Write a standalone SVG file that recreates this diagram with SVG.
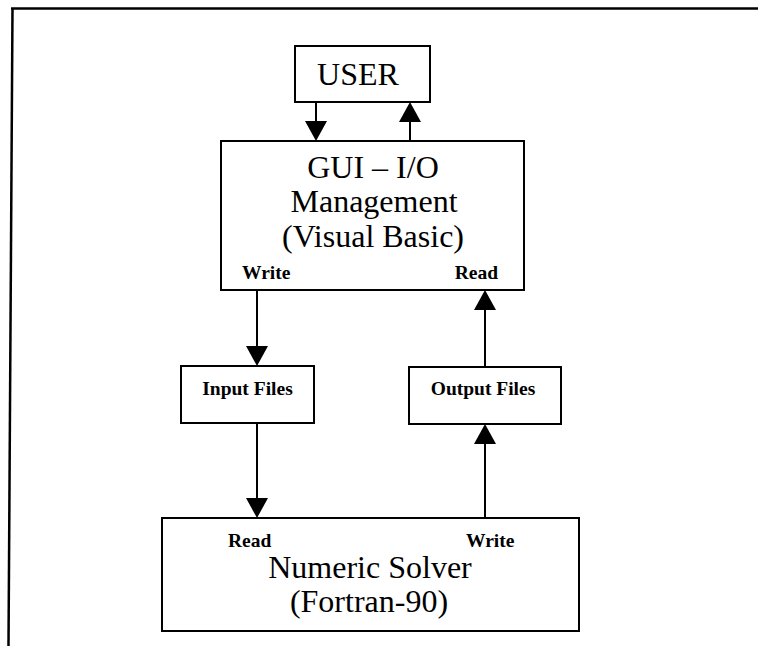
<svg xmlns="http://www.w3.org/2000/svg" width="758" height="646" viewBox="0 0 758 646">
  <style>
    .box { fill: #ffffff; stroke: #000000; stroke-width: 2; }
    .frame { fill: none; stroke: #000000; stroke-width: 2.5; }
    .conn { fill: none; stroke: #000000; stroke-width: 2; marker-end: url(#arrow); }
    .big { font-family: "Liberation Serif", "Times New Roman", serif; font-size: 32px; fill: #000000; text-anchor: middle; }
    .lab { font-family: "Liberation Serif", "Times New Roman", serif; font-size: 19.5px; font-weight: bold; fill: #000000; }
    .mid { text-anchor: middle; }
    .end { text-anchor: end; }
  </style>
  <defs>
    <marker id="arrow" viewBox="0 0 20 22" refX="12" refY="11" markerWidth="20" markerHeight="22" markerUnits="userSpaceOnUse" orient="auto">
      <path d="M0,0 L20,11 L0,22 z" fill="#000000"/>
    </marker>
  </defs>

  <rect width="758" height="646" fill="#ffffff"/>

  <g id="frame">
    <line class="frame" x1="11" y1="8.5" x2="758" y2="8.5"/>
    <line class="frame" x1="12.5" y1="8" x2="8.5" y2="646"/>
  </g>

  <g id="connectors">
    <line class="conn" x1="316" y1="102" x2="316" y2="133"/>
    <line class="conn" x1="410" y1="141" x2="410" y2="110"/>
    <line class="conn" x1="257" y1="290" x2="257" y2="358"/>
    <line class="conn" x1="257" y1="423" x2="257" y2="510"/>
    <line class="conn" x1="485" y1="518" x2="485" y2="432"/>
    <line class="conn" x1="485" y1="367" x2="485" y2="298"/>
  </g>

  <g id="user">
    <rect class="box" x="295" y="46" width="135" height="56"/>
    <text class="big" x="358" y="85" font-size="31">USER</text>
  </g>

  <g id="gui">
    <rect class="box" x="221" y="141" width="303" height="149"/>
    <text class="big" x="373" y="178">GUI – I/O</text>
    <text class="big" x="374" y="212">Management</text>
    <text class="big" x="373" y="247">(Visual Basic)</text>
    <text class="lab" x="242" y="279">Write</text>
    <text class="lab end" x="498" y="279">Read</text>
  </g>

  <g id="input-files">
    <rect class="box" x="181" y="366" width="133" height="57"/>
    <text class="lab mid" x="247.5" y="395">Input Files</text>
  </g>

  <g id="output-files">
    <rect class="box" x="409" y="367" width="152" height="57"/>
    <text class="lab mid" x="483" y="395">Output Files</text>
  </g>

  <g id="solver">
    <rect class="box" x="162" y="518" width="417" height="113"/>
    <text class="lab" x="228" y="547">Read</text>
    <text class="lab" x="466" y="547">Write</text>
    <text class="big" x="370" y="578">Numeric Solver</text>
    <text class="big" x="369" y="612">(Fortran-90)</text>
  </g>
</svg>
